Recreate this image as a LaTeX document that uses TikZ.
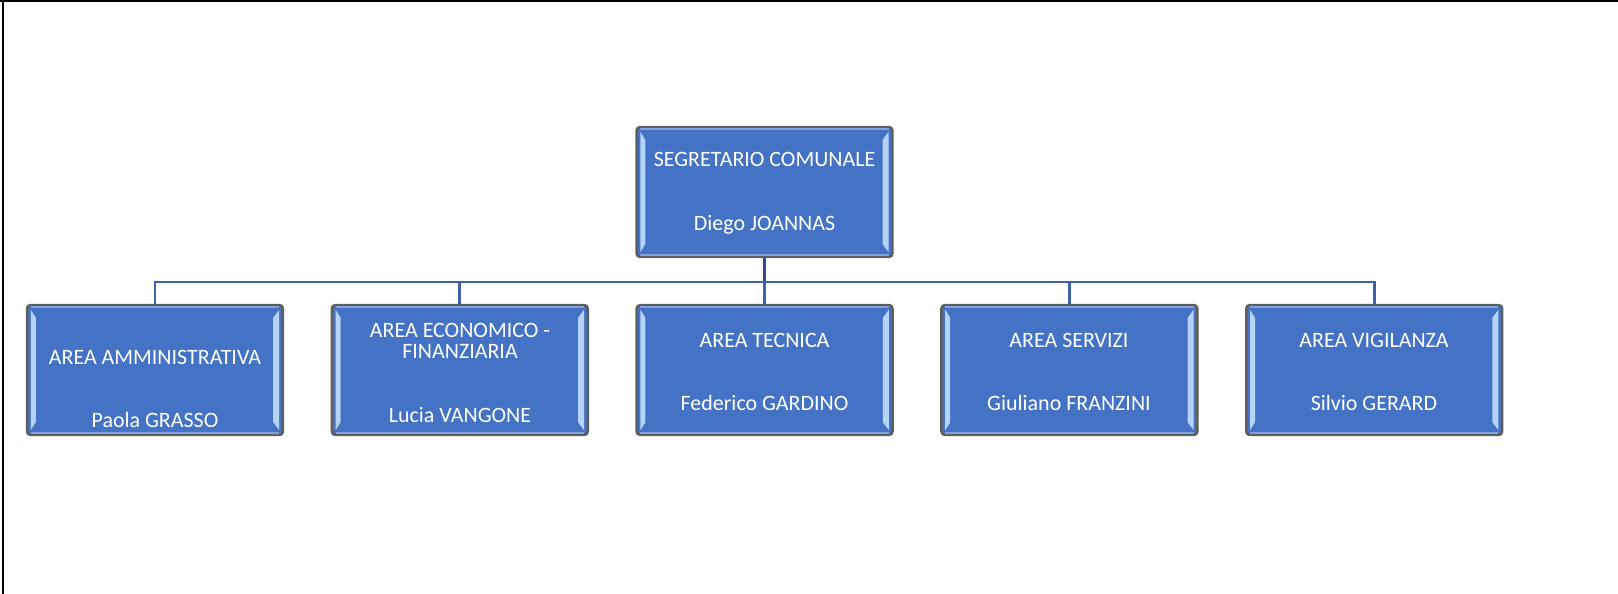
\documentclass[tikz,border=0pt]{standalone}
\usepackage{fontspec}
\setmainfont{Carlito}
\definecolor{boxblue}{HTML}{4472C4}
\definecolor{boxrim}{HTML}{5E5E5E}
\definecolor{shine}{HTML}{B4D3F7}
\definecolor{rimlight}{HTML}{7FA3E0}
\definecolor{stemblue}{HTML}{2E4D8C}
\definecolor{busblue}{HTML}{3F62A8}
\tikzset{
  orgbox/.style={rectangle,rounded corners=2pt,fill=boxblue,draw=boxrim,line width=1.4pt,
    minimum width=5.12cm,minimum height=2.6cm,inner sep=0pt},
  orgtext/.style={text=white,align=center,font=\fontsize{12.5}{12.3}\selectfont},
  stem/.style={stemblue,line width=2.2pt},
  busline/.style={busblue,line width=1.5pt}
}
\begin{document}
\begin{tikzpicture}[x=0.02cm,y=-0.02cm]
\useasboundingbox (0,0) rectangle (1618,594);
\draw[line width=0.05cm] (0,1) -- (1618,1);
\draw[line width=0.05cm] (3,0) -- (3,594);
% boxes
\node[orgbox] (seg) at (764.5,192) {};
\foreach \n [count=\i from 0] in {amm,eco,tec,ser,vig}
  \node[orgbox] (\n) at (155+304.8*\i,370) {};
% bevel
\foreach \n in {seg,amm,eco,tec,ser,vig}{
  \draw[rimlight,line width=1pt] ([shift={(5,3)}]\n.north west) -- ([shift={(-5,3)}]\n.north east);
  \draw[rimlight,line width=1pt] ([shift={(5,-3)}]\n.south west) -- ([shift={(-5,-3)}]\n.south east);
  \fill[shine] ([shift={(5,6)}]\n.north west) -- ([shift={(10,14)}]\n.north west)
    -- ([shift={(10,-14)}]\n.south west) -- ([shift={(5,-6)}]\n.south west) -- cycle;
  \fill[shine] ([shift={(-5,6)}]\n.north east) -- ([shift={(-11,14)}]\n.north east)
    -- ([shift={(-11,-14)}]\n.south east) -- ([shift={(-5,-6)}]\n.south east) -- cycle;
}
% texts
\node[orgtext] (seg-t) at (764.5,193) {SEGRETARIO COMUNALE\\[24pt]Diego JOANNAS};
\foreach \n/\x/\y/\txt in {
  amm/155/389/{AREA AMMINISTRATIVA\\[24pt]Paola GRASSO},
  eco/460/373/{AREA ECONOMICO -\\FINANZIARIA\\[24pt]Lucia VANGONE},
  tec/764.5/372/{AREA TECNICA\\[24pt]Federico GARDINO},
  ser/1069/372/{AREA SERVIZI\\[24pt]Giuliano FRANZINI},
  vig/1374/372/{AREA VIGILANZA\\[24pt]Silvio GERARD}}
  \node[orgtext] (\n-t) at (\x,\y) {\txt};
% connectors
\coordinate (bus) at (764.5,282);
\draw[stem] (seg.south) -- (bus);
\foreach \n in {amm,eco,tec,ser,vig}
  \draw[busline] (bus) -| (\n.north);
\end{tikzpicture}
\end{document}
